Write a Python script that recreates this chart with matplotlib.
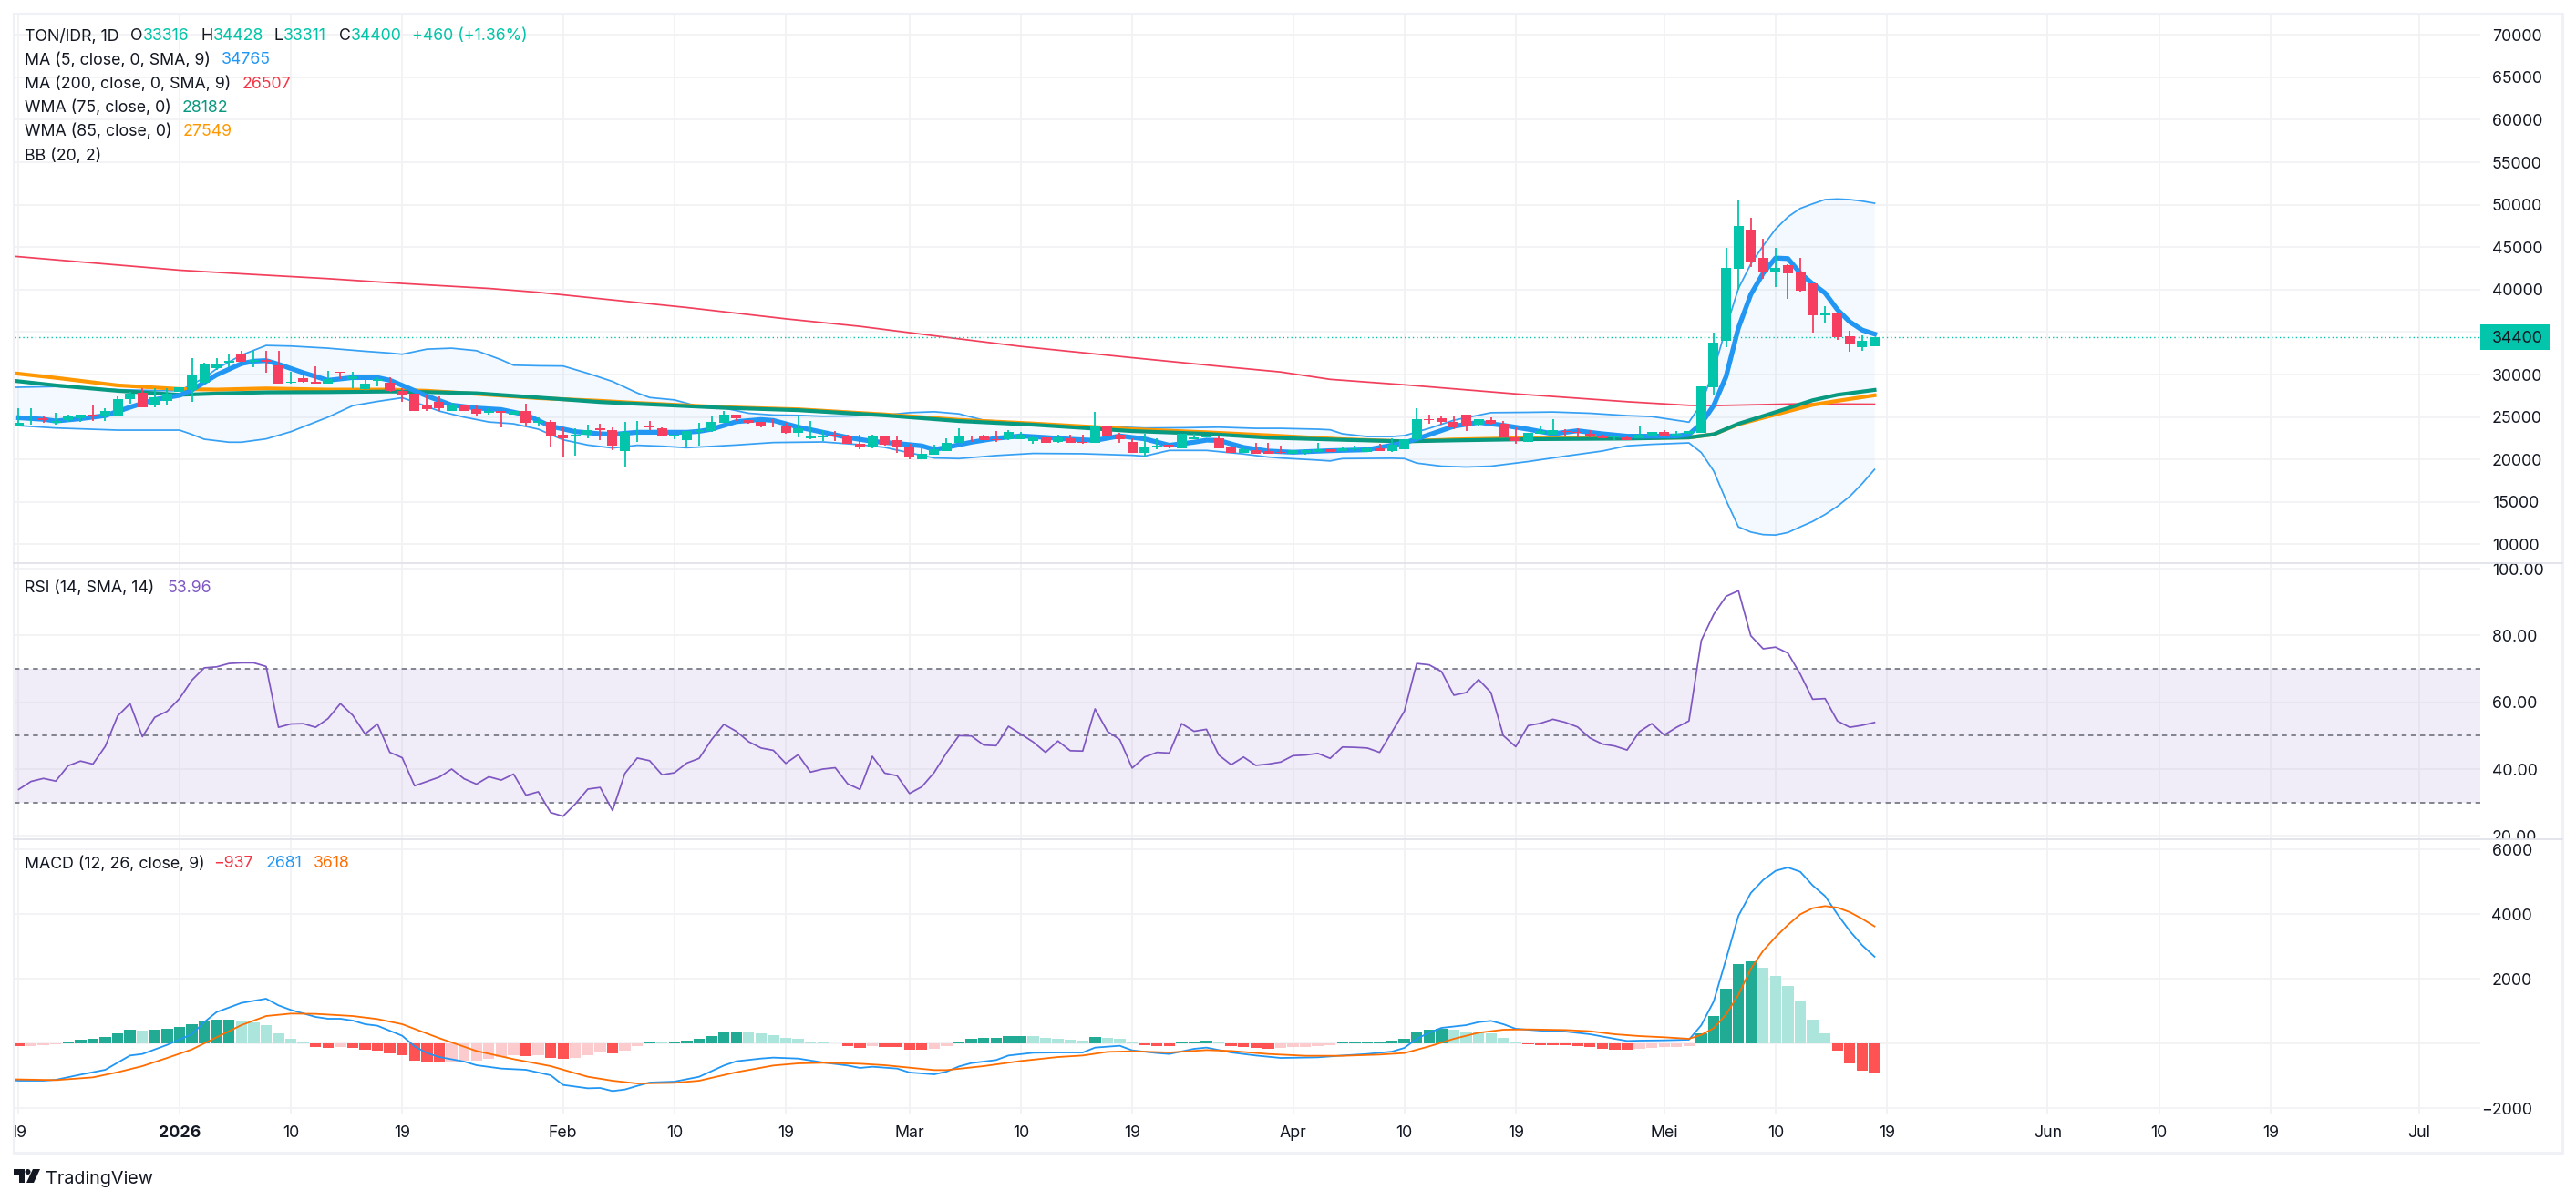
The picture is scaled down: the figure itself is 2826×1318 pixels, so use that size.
import matplotlib
matplotlib.use('Agg')
import matplotlib.pyplot as plt
from matplotlib.patches import Rectangle, Polygon, Circle
from matplotlib.transforms import Bbox

plt.rcParams['font.family'] = ['Inter', 'DejaVu Sans']

W, H = 2826, 1318

# candles, one row per day starting 19 Dec
opens = [23950, 24480, 24800, 24340, 24660, 24870, 25230, 25120, 25120, 27050, 27860, 26400, 26940, 28010, 28180, 29070,
         30780, 31420, 32490, 31500, 31670, 31100, 29070, 29610, 29180, 28970, 30320, 29470, 28330, 29290, 29070, 28080,
         27790, 26300, 26800, 25760, 26300, 25870, 25440, 25660, 25230, 25760, 24270, 24380, 22880, 22670, 22880, 23630,
         23410, 20960, 23840, 23950, 23630, 22670, 22240, 23200, 23380, 24270, 25230, 24660, 24450, 24020, 23840, 23090,
         22450, 22560, 22880, 22740, 21810, 21490, 22670, 22240, 21380, 20000, 20530, 20960, 21920, 22770, 22670, 22350,
         22350, 22350, 22130, 22560, 22030, 22450, 22030, 21920, 23840, 22880, 22030, 20740, 21490, 21710, 21280, 22350,
         22560, 22450, 21380, 20740, 21060, 20960, 20920, 20670, 20740, 20890, 21170, 20960, 21170, 20850, 21280, 20960,
         21170, 22350, 24700, 24800, 24380, 25230, 24050, 24590, 24160, 22560, 22030, 22990, 22880, 23310, 23200, 22990,
         22770, 22560, 22560, 22450, 22770, 23200, 22670, 22990, 23140, 28540, 33990, 42470, 47090, 43760, 42040, 42900,
         42040, 40750, 36990, 37210, 34520, 33230, 33316]
highs = [25980, 25980, 25020, 25440, 25230, 25230, 26300, 25980, 27470, 28010, 28430, 28430, 28430, 28540, 31960, 31350,
         31960, 32490, 32810, 32810, 32810, 32810, 30320, 30250, 31000, 30460, 30320, 30360, 29430, 29720, 29720, 28430,
         27790, 27650, 27470, 26650, 26300, 26370, 26080, 25660, 25760, 26620, 24910, 24590, 23730, 23630, 24050, 24160,
         23730, 24380, 24480, 24480, 23730, 22880, 23310, 24270, 25020, 25760, 25230, 24660, 24450, 24700, 24270, 25020,
         24480, 23410, 23310, 22880, 22880, 22880, 22770, 22770, 21810, 21810, 21710, 22450, 23630, 22770, 22880, 23310,
         23410, 23200, 22770, 22770, 22880, 22880, 22880, 25550, 23840, 23090, 22450, 22990, 22450, 21810, 22990, 22990,
         22770, 22670, 21490, 21490, 21920, 21920, 21600, 21060, 21170, 21920, 21170, 21380, 21600, 21380, 21810, 22450,
         22350, 25980, 25230, 25020, 25020, 25230, 24700, 24910, 24480, 23730, 23090, 23840, 24700, 23520, 23630, 23410,
         22880, 22810, 22670, 23840, 23200, 23410, 23310, 23310, 28620, 34950, 44940, 50530, 48490, 46010, 44940, 43010,
         43760, 40750, 38070, 37210, 35170, 34630, 34428]
lows = [23950, 24090, 24270, 24090, 24450, 24380, 24480, 24480, 25120, 26580, 26190, 26190, 26510, 28010, 26830, 28900,
        30500, 30850, 31100, 30890, 30250, 28970, 28970, 29070, 28970, 28970, 29430, 28430, 28110, 28650, 27940, 26830,
        25660, 25760, 25660, 25760, 25660, 25020, 25230, 23730, 25230, 23910, 23840, 21490, 20320, 20420, 22450, 22310,
        21060, 19040, 22030, 23490, 22670, 22350, 21490, 21600, 23200, 24270, 24480, 24160, 23730, 23730, 22990, 22560,
        22350, 22130, 22130, 21810, 21170, 21280, 21600, 20740, 20000, 20000, 20530, 20960, 21920, 22030, 22030, 22030,
        22240, 22350, 21810, 21920, 21920, 21920, 21810, 21920, 22560, 21920, 20740, 20210, 21170, 21280, 21280, 22350,
        22560, 21280, 20740, 20740, 20640, 20640, 20640, 20670, 20530, 20890, 20850, 20960, 20990, 20850, 20960, 20850,
        21170, 22240, 24160, 24050, 23520, 23310, 23840, 24050, 22560, 21810, 22030, 22990, 22880, 22770, 22560, 22560,
        22450, 22240, 22240, 22450, 22770, 22670, 22670, 22990, 23140, 27680, 33230, 40000, 42690, 41290, 40320, 38930,
        39790, 34950, 36030, 34090, 32700, 32800, 33311]
closes = [24270, 24480, 24660, 24520, 25020, 25230, 25050, 25760, 27150, 27720, 26190, 27370, 27760, 28540, 30040, 31210,
          31320, 31640, 31530, 31710, 31500, 28970, 29150, 29180, 28970, 29500, 30250, 29820, 28970, 29500, 28040, 27690,
          25660, 25870, 26080, 26510, 25760, 25340, 25730, 25440, 25760, 24270, 24480, 22770, 22450, 22880, 23410, 23490,
          21600, 23200, 23950, 23730, 22670, 22880, 23310, 23490, 24380, 25230, 24800, 24270, 23950, 23840, 23090, 23630,
          22670, 22670, 22740, 21810, 21380, 22770, 21710, 21490, 20320, 20640, 21170, 21920, 22770, 22670, 22240, 22240,
          23200, 22880, 22560, 21920, 22560, 21920, 21920, 23840, 22770, 22350, 20740, 21380, 21600, 21490, 22990, 22560,
          22700, 21280, 20740, 21170, 20640, 20640, 20740, 21060, 21060, 21170, 20850, 21280, 21310, 21280, 20960, 21710,
          22350, 24700, 24590, 24380, 23730, 23840, 24700, 24160, 22560, 22130, 23090, 23310, 23410, 23200, 23090, 22670,
          22450, 22670, 22240, 22880, 23200, 22670, 22990, 23310, 28620, 33770, 42580, 47520, 43330, 42040, 42580, 41930,
          39890, 36990, 37210, 34420, 33560, 33940, 34400]

# moving averages
ma5_days = [0, 2, 3, 5, 7, 9, 11, 13, 14, 16, 18, 19, 20, 21, 23, 25, 27, 29, 30, 31, 33, 35, 37, 39, 41, 43, 45, 47, 48, 50,
            52, 54, 55, 56, 58, 60, 61, 63, 65, 67, 69, 71, 73, 74, 75, 77, 79, 81, 83, 85, 87, 89, 91, 93, 95, 96, 97, 99,
            101, 103, 106, 109, 112, 114, 116, 118, 120, 122, 124, 126, 128, 130, 132, 134, 135, 136, 137, 138, 139, 140,
            141, 142, 143, 144, 145, 146, 147, 148, 149, 150]
ma5_vals = [24910, 24730, 24520, 24800, 25160, 26150, 27050, 27540, 28180, 29960, 31280, 31570, 31640, 31210, 30210, 29320,
            29640, 29640, 29320, 28720, 27470, 26400, 26050, 25870, 25260, 23910, 23270, 23020, 22950, 23200, 23200, 23200,
            23310, 23560, 24450, 24700, 24590, 23810, 23200, 22590, 22130, 21880, 21600, 21170, 21420, 22030, 22490, 22770,
            22590, 22380, 22240, 22770, 22420, 21670, 22030, 22270, 22240, 21420, 20990, 20850, 21030, 21140, 21950, 22910,
            23910, 24370, 24020, 23560, 23020, 23380, 23020, 22740, 22740, 22770, 22960, 24210, 26360, 29760, 35490, 39430,
            41930, 43720, 43650, 41930, 40680, 39600, 37640, 36200, 35240, 34765]

ma200_days = [-1, 5, 13, 18, 25, 31, 38, 42, 48, 54, 62, 68, 75, 81, 90, 97, 102, 106, 112, 121, 130, 135, 137, 144, 150]
ma200_vals = [44000, 43260, 42290, 41860, 41290, 40720, 40140, 39680, 38780, 37890, 36560, 35670, 34380, 33310, 31980, 30980,
              30300, 29430, 28790, 27720, 26800, 26370, 26340, 26550, 26507]

wma_days = [-1, 3, 8, 13, 16, 20, 25, 30, 33, 37, 42, 47, 50, 57, 63, 70, 76, 82, 90, 96, 101, 107, 112, 116, 122, 130, 135,
            137, 139, 142, 145, 147, 150]
wma75_vals = [29360, 28720, 28080, 27610, 27760, 27900, 27930, 28000, 27930, 27790, 27290, 26760, 26550, 26080, 25800, 25190,
              24520, 24090, 23340, 23020, 22560, 22310, 22130, 22240, 22380, 22450, 22590, 22960, 24200, 25570, 26970, 27610,
              28182]
wma85_vals = [30250, 29610, 28720, 28290, 28220, 28360, 28220, 28220, 28080, 27720, 27220, 26900, 26650, 26150, 25900, 25300,
              24660, 24230, 23560, 23200, 22840, 22380, 22130, 22350, 22520, 22520, 22590, 22960, 24140, 25290, 26430, 26900,
              27549]

# bollinger bands
bb_up_days = [-1, 0, 3, 8, 11, 13, 15, 16, 18, 20, 22, 25, 28, 30, 31, 33, 35, 37, 39, 40, 42, 44, 46, 48, 50, 51, 53, 55, 57,
              59, 61, 63, 65, 67, 70, 72, 74, 76, 78, 82, 86, 88, 91, 94, 97, 100, 102, 105, 106, 107, 109, 111, 112, 114, 116,
              119, 122, 124, 127, 130, 132, 135, 136, 137, 138, 139, 140, 141, 142, 143, 144, 145, 146, 147, 148, 149, 150]
bb_up_vals = [28470, 28500, 28580, 28220, 28110, 28080, 29610, 30680, 32280, 33420, 33350, 33100, 32740, 32530, 32390, 32990,
              33100, 32810, 31740, 31100, 31030, 31000, 30140, 29180, 27830, 27290, 27010, 26230, 26050, 25440, 25230, 25190,
              25090, 25120, 25230, 25510, 25620, 25370, 24620, 24230, 23880, 23880, 23700, 23730, 23800, 23660, 23660, 23560,
              23490, 23020, 22700, 22700, 22810, 23660, 24620, 25510, 25550, 25590, 25440, 25160, 25050, 24390, 26540, 30480,
              35490, 40140, 43010, 45160, 47120, 48560, 49560, 50100, 50600, 50670, 50600, 50420, 50170]
bb_lo_days = [-1, 0, 3, 8, 13, 14, 15, 17, 18, 20, 22, 25, 27, 29, 31, 32, 34, 36, 38, 40, 42, 44, 46, 48, 50, 52, 54, 58, 61,
              65, 68, 70, 72, 74, 76, 79, 82, 86, 90, 91, 93, 96, 99, 101, 102, 105, 106, 107, 111, 112, 113, 115, 117, 119, 122,
              125, 128, 130, 132, 135, 136, 137, 138, 139, 140, 141, 142, 143, 144, 145, 146, 147, 148, 149, 150]
bb_lo_vals = [24090, 23980, 23700, 23450, 23450, 22950, 22380, 22030, 22030, 22420, 23270, 24980, 26330, 26830, 27260, 26760,
              25690, 24980, 24410, 24200, 23560, 22310, 21700, 21350, 21670, 21560, 21380, 21700, 21990, 22060, 21740, 21420,
              20780, 20170, 20100, 20460, 20710, 20670, 20490, 20390, 21060, 21060, 20640, 20280, 20170, 19920, 19820, 20100,
              20140, 20100, 19570, 19210, 19110, 19210, 19750, 20390, 20990, 21600, 21780, 21950, 20810, 18640, 15190, 12060,
              11450, 11150, 11100, 11400, 12060, 12700, 13520, 14480, 15650, 17150, 18820]

# rsi, one value per day
rsi_vals = [33.9, 36.3, 37.2, 36.4, 41.0, 42.4, 41.5, 46.8, 55.9, 59.6, 49.7, 55.5, 57.3, 61.1, 66.6, 70.3, 70.6, 71.6, 71.8,
            71.8, 70.7, 52.5, 53.5, 53.6, 52.5, 55.1, 59.6, 56.1, 50.5, 53.5, 45.0, 43.4, 35.0, 36.3, 37.6, 40.0, 37.1, 35.5,
            37.7, 36.7, 38.5, 32.2, 33.2, 27.0, 25.9, 29.6, 34.0, 34.5, 27.6, 38.7, 43.3, 42.5, 38.3, 38.9, 41.8, 43.2, 48.8,
            53.4, 51.3, 48.2, 46.3, 45.6, 41.7, 44.3, 39.1, 40.0, 40.4, 35.6, 33.9, 43.8, 38.8, 38.0, 32.7, 34.7, 39.0, 44.9,
            50.0, 49.9, 47.2, 47.0, 52.8, 50.5, 48.1, 45.0, 48.4, 45.5, 45.4, 58.0, 51.3, 48.8, 40.3, 43.6, 45.0, 44.8, 53.6,
            51.3, 51.9, 44.2, 41.3, 43.6, 41.1, 41.5, 42.1, 44.0, 44.2, 44.7, 43.2, 46.6, 46.5, 46.3, 45.0, 51.1, 57.3, 71.6,
            71.2, 69.2, 62.1, 62.9, 66.8, 62.9, 50.0, 46.7, 53.0, 53.7, 54.9, 54.0, 52.6, 49.3, 47.5, 46.9, 45.7, 51.2, 53.6,
            50.2, 52.5, 54.4, 78.5, 86.3, 91.7, 93.4, 79.9, 76.0, 76.5, 74.7, 68.4, 60.9, 61.1, 54.4, 52.5, 53.1, 53.96]

# macd histogram, one value per day
hist_vals = [-85, -80, -60, -30, 65, 110, 140, 200, 310, 420, 390, 420, 450, 510, 590, 700, 730, 735, 700, 650, 560, 310, 140,
             15, -110, -140, -110, -140, -200, -225, -310, -370, -535, -590, -595, -560, -535, -530, -480, -420, -370, -395,
             -370, -450, -480, -450, -370, -280, -310, -225, -85, 25, 20, 30, 85, 140, 225, 340, 365, 340, 310, 250, 170, 140,
             60, 30, 10, -85, -140, -85, -110, -115, -200, -205, -170, -85, 55, 140, 170, 175, 225, 230, 225, 170, 140, 110, 85,
             200, 170, 140, 15, -55, -85, -90, 30, 55, 85, 30, -85, -110, -140, -170, -140, -110, -105, -85, -55, 15, 30, 35, 40,
             85, 140, 340, 420, 450, 420, 365, 365, 310, 170, 30, -25, -55, -60, -65, -85, -110, -170, -200, -205, -170, -140,
             -120, -120, -95, 310, 845, 1690, 2450, 2535, 2340, 2085, 1775, 1295, 730, 310, -225, -620, -845, -937]

macd_days = [-1, 0, 2, 3, 5, 7, 9, 10, 12, 14, 15, 16, 18, 20, 21, 22, 24, 25, 26, 27, 28, 29, 31, 32, 33, 34, 36, 37, 39, 41, 43,
             44, 46, 47, 48, 49, 50, 51, 53, 55, 57, 58, 60, 61, 63, 65, 67, 68, 69, 71, 72, 74, 75, 76, 77, 79, 80, 82, 84, 86, 87,
             89, 90, 92, 93, 95, 96, 98, 100, 102, 105, 107, 109, 111, 112, 113, 114, 115, 117, 118, 119, 120, 121, 123, 125, 127,
             129, 130, 131, 133, 135, 136, 137, 138, 139, 140, 141, 142, 143, 144, 145, 146, 147, 148, 149, 150]
macd_vals = [-1127, -1155, -1155, -1127, -967, -817, -376, -329, -47, 282, 657, 967, 1249, 1380, 1174, 1033, 817, 761, 761, 704,
             592, 545, 235, -94, -300, -423, -563, -676, -779, -817, -986, -1286, -1390, -1380, -1474, -1427, -1315, -1211, -1183,
             -1033, -685, -554, -470, -441, -470, -590, -685, -760, -723, -779, -900, -958, -873, -714, -610, -516, -376, -291,
             -282, -282, -131, -75, -216, -300, -329, -169, -131, -282, -376, -451, -432, -376, -329, -254, -141, 141, 329, 479,
             563, 657, 695, 592, 451, 394, 366, 282, 141, 75, 85, 94, 113, 563, 1296, 2601, 3944, 4648, 5052, 5334, 5437, 5305,
             4883, 4554, 3991, 3474, 3033, 2681]
signal_days = [-1, 3, 6, 8, 10, 12, 14, 16, 18, 20, 22, 24, 27, 29, 31, 34, 37, 40, 43, 46, 48, 50, 53, 55, 58, 61, 63, 65, 68, 70,
               72, 74, 75, 78, 81, 84, 86, 88, 90, 93, 96, 98, 101, 104, 107, 110, 112, 114, 116, 118, 120, 122, 125, 127, 129,
               131, 133, 135, 136, 137, 138, 139, 140, 141, 142, 143, 144, 145, 146, 147, 148, 149, 150]
signal_vals = [-1108, -1136, -1052, -892, -704, -451, -188, 188, 563, 845, 920, 911, 845, 751, 592, 160, -235, -488, -704, -1033,
               -1155, -1240, -1221, -1155, -892, -685, -620, -601, -629, -676, -751, -826, -826, -704, -545, -423, -376, -263,
               -244, -282, -207, -235, -329, -385, -385, -347, -300, -94, 141, 329, 423, 432, 413, 376, 282, 225, 188, 141, 263,
               470, 892, 1502, 2300, 2864, 3287, 3662, 3991, 4179, 4244, 4197, 4057, 3850, 3618]

# axis ticks
day_ticks = [0, 13, 22, 31, 44, 53, 62, 72, 81, 90, 103, 112, 121, 133, 142, 151, 164, 173, 182, 194]
day_labels = ['19', '2026', '10', '19', 'Feb', '10', '19', 'Mar', '10', '19', 'Apr', '10', '19', 'Mei', '10', '19', 'Jun', '10',
              '19', 'Jul']
price_ticks = list(range(10000, 70001, 5000))
rsi_ticks = [20, 40, 60, 80, 100]
macd_ticks = [-2000, 0, 2000, 4000, 6000]
macd_labels = ['\u22122000', '', '2000', '4000', '6000']

# colours
TEXT = '#131722'
GRID = '#f2f2f5'
BORDER = '#f0f1f6'
SEP = '#e2e2ea'
UP = '#02c5ac'
DOWN = '#f63f60'
BLUE = '#2196f3'
RED = '#f23f5c'
GREEN = '#089981'
ORANGE = '#ff9800'
PURPLE = '#7e57c2'
MACD_ORANGE = '#ff6d00'

# chart geometry in pixels
LEFT, RIGHT = 16, 2721
X0 = -0.33
X1 = (RIGHT - 20.5) / 13.573
FS = 12.8

fig = plt.figure(figsize=(W / 100, H / 100), dpi=100, facecolor='white')


def make_pane(top, bottom, ymin, ymax, yticks, ylabels):
    ax = fig.add_axes([LEFT / W, 1 - bottom / H, (RIGHT - LEFT) / W, (bottom - top) / H])
    ax.set_xlim(X0, X1)
    ax.set_ylim(ymin, ymax)
    ax.set_xticks(day_ticks)
    ax.set_xticklabels([])
    ax.set_yticks(yticks)
    ax.set_yticklabels(ylabels, fontsize=FS, color=TEXT)
    ax.yaxis.tick_right()
    ax.tick_params(length=0, pad=9.2)
    ax.grid(color=GRID, linewidth=1.3)
    ax.set_axisbelow(True)
    for s in ax.spines.values():
        s.set_visible(False)
    # labels near a pane edge get cut off by the separator
    clip = Bbox([[LEFT, H - bottom], [W, H - top]])
    for lab in ax.get_yticklabels():
        lab.set_clip_on(True)
        lab.set_clip_box(clip)
    return ax


# main pane
ax = make_pane(16, 618, 7789, 72384, price_ticks, [str(p) for p in price_ticks])

poly_x = bb_up_days + bb_lo_days[::-1]
poly_y = bb_up_vals + bb_lo_vals[::-1]
ax.fill(poly_x, poly_y, color=BLUE, alpha=0.05, linewidth=0, zorder=1)
ax.plot(bb_up_days, bb_up_vals, color=BLUE, lw=1.25, alpha=0.9, zorder=2)
ax.plot(bb_lo_days, bb_lo_vals, color=BLUE, lw=1.25, alpha=0.9, zorder=2)
ax.plot(ma200_days, ma200_vals, color=RED, lw=1.25, zorder=2.1)
ax.plot(wma_days, wma85_vals, color=ORANGE, lw=3.0, zorder=2.2)
ax.plot(wma_days, wma75_vals, color=GREEN, lw=3.0, zorder=2.3)
ax.plot(ma5_days, ma5_vals, color=BLUE, lw=3.8, zorder=2.4, solid_joinstyle='round')

days = list(range(len(closes)))
colors = [UP if c >= o else DOWN for o, c in zip(opens, closes)]
ax.vlines(days, lows, highs, colors=colors, linewidth=1.3, zorder=3)
ax.bar(days, [abs(c - o) for o, c in zip(opens, closes)], bottom=[min(o, c) for o, c in zip(opens, closes)],
       width=0.81, color=colors, linewidth=0, zorder=3.1)

# last price line and tag
last = closes[-1]
ax.axhline(last, color=UP, linewidth=1.0, linestyle=(0, (1, 2.2)), zorder=2.5)
tf = ax.get_yaxis_transform()
ax.add_patch(Rectangle((1, last - 1450), 77 / (RIGHT - LEFT), 2900, transform=tf, color=UP, linewidth=0, clip_on=False, zorder=5))
ax.text(1 + 13 / (RIGHT - LEFT), last, str(last), transform=tf, va='center_baseline', ha='left', fontsize=FS, color=TEXT,
        clip_on=False, zorder=6)

# rsi pane
ax2 = make_pane(618, 921, 19.0, 101.64, rsi_ticks, ['%.2f' % v for v in rsi_ticks])
ax2.axhspan(30, 70, color=PURPLE, alpha=0.1, linewidth=0, zorder=1)
for lvl in [30, 50, 70]:
    ax2.axhline(lvl, color='#787b86', linewidth=1.3, linestyle=(0, (3, 2.6)), zorder=1.5)
ax2.plot(days, rsi_vals, color=PURPLE, lw=1.25, zorder=3)

# macd pane
ax3 = make_pane(921, 1223, -2197, 6310, macd_ticks, macd_labels)
hist_colors = []
prev = 0
for h in hist_vals:
    if h >= 0:
        hist_colors.append('#22ab94' if h > prev else '#ace5dc')
    else:
        hist_colors.append('#ff5252' if h < prev else '#fccbcd')
    prev = h
ax3.bar(days, hist_vals, width=0.91, color=hist_colors, linewidth=0, zorder=2)
ax3.plot(macd_days, macd_vals, color=BLUE, lw=1.3, zorder=3)
ax3.plot(signal_days, signal_vals, color=MACD_ORANGE, lw=1.3, zorder=3.1)

# the macd scale is set right-aligned because of the minus sign
for lab in ax3.get_yticklabels():
    lab.set_horizontalalignment('right')
ax3.tick_params(axis='y', pad=41)

# time axis
ax3.set_xticklabels(day_labels, fontsize=FS, color=TEXT)
ax3.tick_params(axis='x', pad=9)
for lab, txt in zip(ax3.get_xticklabels(), day_labels):
    if txt == '2026':
        lab.set_fontweight('bold')
    lab.set_clip_on(True)
    lab.set_clip_box(Bbox([[LEFT, 0], [W, H]]))

# pixel overlay for frame, legends and logo
ov = fig.add_axes([0, 0, 1, 1], facecolor='none')
ov.set_xlim(0, W)
ov.set_ylim(H, 0)
ov.axis('off')

ov.plot([15, 2811, 2811, 15, 15], [15, 15, 1265, 1265, 15], color=BORDER, lw=2.2)
for y in [618, 921]:
    ov.plot([15, 2811], [y, y], color=SEP, lw=1.3)


def label(x, y, s, color=TEXT):
    ov.text(x, y, s, color=color, fontsize=FS, va='center_baseline', ha='left')


TEAL = '#00c4a7'
label(27, 38, 'TON/IDR, 1D')
for x, s in [(143, 'O'), (221, 'H'), (301, 'L'), (372, 'C')]:
    label(x, 38, s)
for x, s in [(157, '33316'), (234, '34428'), (311, '33311'), (385, '34400'), (452, '+460 (+1.36%)')]:
    label(x, 38, s, TEAL)
label(27, 64, 'MA (5, close, 0, SMA, 9)')
label(243, 64, '34765', BLUE)
label(27, 90.5, 'MA (200, close, 0, SMA, 9)')
label(266, 90.5, '26507', '#f23645')
label(27, 116.5, 'WMA (75, close, 0)')
label(200, 116.5, '28182', GREEN)
label(27, 142.5, 'WMA (85, close, 0)')
label(201, 142.5, '27549', ORANGE)
label(27, 169, 'BB (20, 2)')
label(27, 643, 'RSI (14, SMA, 14)')
label(184, 643, '53.96', PURPLE)
label(27, 946, 'MACD (12, 26, close, 9)')
label(234, 946, '\u2212937', '#f23645')
label(292, 946, '2681', BLUE)
label(344, 946, '3618', MACD_ORANGE)

# logo
ov.add_patch(Polygon([[15, 1283], [27, 1283], [27, 1298], [21, 1298], [21, 1289], [15, 1289]], color=TEXT, linewidth=0))
ov.add_patch(Circle((30.5, 1286), 3, color=TEXT, linewidth=0))
ov.add_patch(Polygon([[36, 1283], [44, 1283], [37, 1298], [29, 1298]], color=TEXT, linewidth=0))
ov.text(50, 1292, 'TradingView', color=TEXT, fontsize=14.2, va='center_baseline', ha='left')

fig.savefig('out.png', dpi=100)
